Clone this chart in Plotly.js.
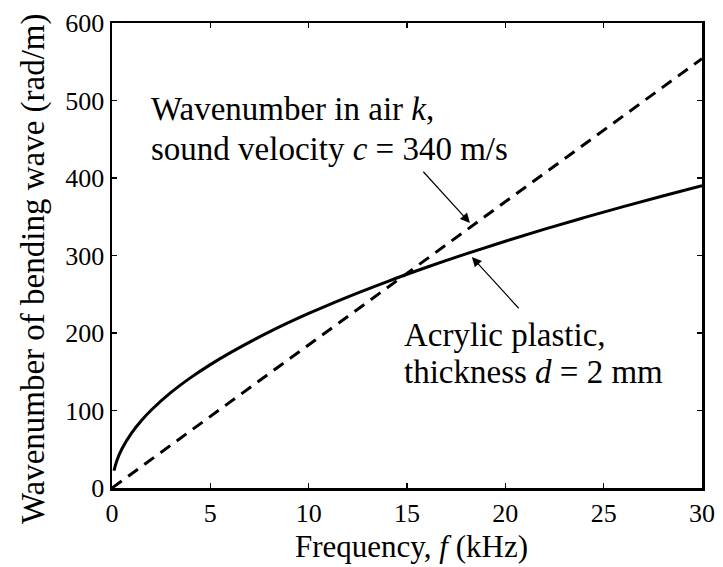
<!DOCTYPE html>
<html>
<head>
<meta charset="utf-8">
<script src="https://cdn.plot.ly/plotly-3.0.1.min.js"></script>
<style>html,body{margin:0;padding:0;background:#fff;}#chart{width:723px;height:567px;}</style>
</head>
<body>
<div id="chart"></div>
<script>
// Wavenumber in air (straight line)
const airFreq = [0, 30];
const airK = [0, 554];

// Bending wave wavenumber, acrylic plastic, d = 2 mm
const plateFreq = [0.1, 0.25, 0.5, 1, 1.5, 2, 3, 4, 5, 6, 8, 10, 12, 14, 16, 18, 20, 22, 24, 26, 28, 30];
const plateK = [22.5, 35.6, 50.3, 71.2, 87.2, 100.7, 123.3, 142.4, 159.2, 174.4, 201.4, 225.2, 246.7, 266.4, 284.8, 302.1, 318.4, 334.0, 348.8, 363.1, 376.8, 390];

const xTicks = [0, 5, 10, 15, 20, 25, 30];
const yTicks = [0, 100, 200, 300, 400, 500, 600];

const xTitle = 'Frequency, <i>f</i> (kHz)';
const yTitle = 'Wavenumber of bending wave (rad/m)';
const airLabel = ['Wavenumber in air <i>k</i>,', 'sound velocity <i>c</i> = 340 m/s'];
const plateLabel = ['Acrylic plastic,', 'thickness <i>d</i> = 2 mm'];

const FONT = "Liberation Serif, Times New Roman, serif";
const txt = (s) => ({family: FONT, size: s, color: '#000'});

const traces = [
  {x: airFreq, y: airK, mode: 'lines', line: {color: '#000', width: 3, dash: '12px,8px'}, hoverinfo: 'skip'},
  {x: plateFreq, y: plateK, mode: 'lines', line: {color: '#000', width: 3, shape: 'spline'}, hoverinfo: 'skip'}
];

const axisCommon = {
  showgrid: false, zeroline: false, showline: true, linecolor: '#000', linewidth: 2.5,
  mirror: 'ticks', ticks: 'inside', ticklen: 5, tickwidth: 1.5, tickcolor: '#000',
  tickfont: txt(26)
};

const layout = {
  width: 723, height: 567,
  margin: {l: 112, r: 21, t: 23, b: 79},
  paper_bgcolor: '#fff', plot_bgcolor: '#fff',
  showlegend: false,
  font: {family: FONT, color: '#000'},
  xaxis: Object.assign({}, axisCommon, {range: [0, 30], tickvals: xTicks, ticktext: xTicks.map(String)}),
  yaxis: Object.assign({}, axisCommon, {range: [0, 600], tickvals: yTicks, ticktext: yTicks.map(String)}),
  annotations: [
    {xref: 'paper', yref: 'paper', x: 0.507, y: -0.126, xanchor: 'center', yanchor: 'middle', showarrow: false,
     text: xTitle, font: txt(31)},
    {xref: 'paper', yref: 'paper', x: -0.134, y: 0.473, xanchor: 'center', yanchor: 'middle', showarrow: false,
     textangle: -90, text: yTitle, font: txt(33)},
    {xref: 'paper', yref: 'paper', x: 0.0627, y: 0.815, xanchor: 'left', yanchor: 'middle', showarrow: false,
     text: airLabel[0], font: txt(33)},
    {xref: 'paper', yref: 'paper', x: 0.0627, y: 0.728, xanchor: 'left', yanchor: 'middle', showarrow: false,
     text: airLabel[1], font: txt(33)},
    {xref: 'paper', yref: 'paper', x: 0.4915, y: 0.330, xanchor: 'left', yanchor: 'middle', showarrow: false,
     text: plateLabel[0], font: txt(33)},
    {xref: 'paper', yref: 'paper', x: 0.4915, y: 0.250, xanchor: 'left', yanchor: 'middle', showarrow: false,
     text: plateLabel[1], font: txt(33)},
    {x: 18.2, y: 342, xref: 'x', yref: 'y', axref: 'x', ayref: 'y', ax: 15.76, ay: 410, text: '',
     showarrow: true, arrowhead: 2, arrowsize: 1.6, arrowwidth: 1.2, arrowcolor: '#000'},
    {x: 18.3, y: 298, xref: 'x', yref: 'y', axref: 'x', ayref: 'y', ax: 20.75, ay: 230, text: '',
     showarrow: true, arrowhead: 2, arrowsize: 1.6, arrowwidth: 1.2, arrowcolor: '#000'}
  ]
};

Plotly.newPlot('chart', traces, layout, {staticPlot: true, displayModeBar: false});
</script>
</body>
</html>
